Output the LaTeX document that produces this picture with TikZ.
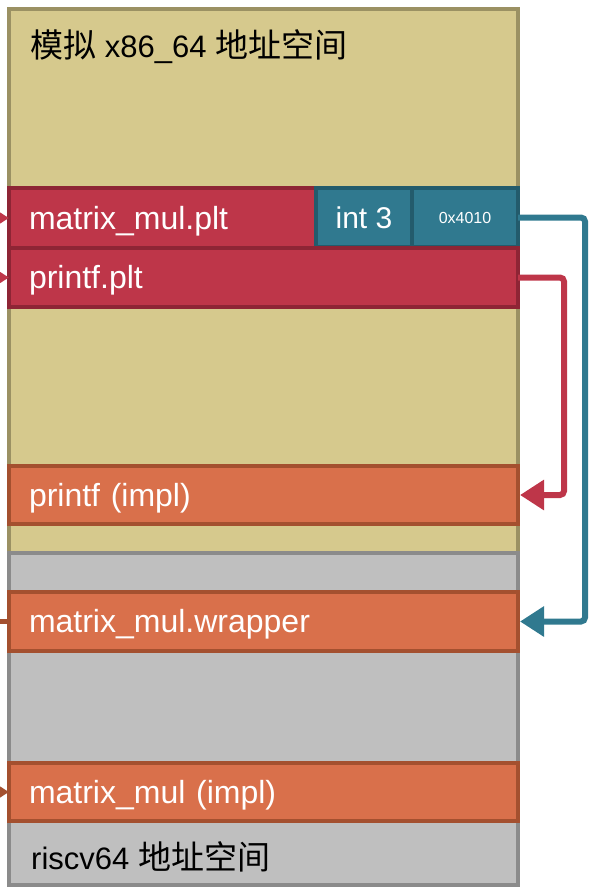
\documentclass[tikz,border=0pt]{standalone}
\usepackage{fontspec}
\setmainfont{Liberation Sans}
\newfontfamily\cjk{Noto Sans CJK SC}
\usetikzlibrary{arrows.meta}

\definecolor{sandfill}{HTML}{D6C98D}
\definecolor{sandedge}{HTML}{9B9163}
\definecolor{greyfill}{HTML}{BFBFBF}
\definecolor{greyedge}{HTML}{8B8B8B}
\definecolor{pltfill}{HTML}{BE3649}
\definecolor{pltedge}{HTML}{8E2535}
\definecolor{tealfill}{HTML}{30798F}
\definecolor{tealedge}{HTML}{235B6C}
\definecolor{implfill}{HTML}{D9704B}
\definecolor{impledge}{HTML}{A4502F}

\newcommand{\hanzi}[1]{{\cjk\fontsize{33}{38}\selectfont #1}}

\begin{document}
\begin{tikzpicture}[x=1pt, y=-1pt,
  box/.style={anchor=north west, outer sep=0pt, inner sep=0pt, line width=4pt},
  label/.style={text=white, align=left, font=\fontsize{32}{38}\selectfont, text height=29pt, text depth=7pt},
  space/.style={box, line width=4.5pt},
  plt/.style={box, label, draw=pltedge, fill=pltfill},
  tealbox/.style={box, draw=tealedge, fill=tealfill, text=white, align=center},
  impl/.style={box, label, draw=impledge, fill=implfill},
  title/.style={anchor=base west, inner sep=0pt, font=\fontsize{31}{37}\selectfont},
  link/.style={line width=6pt, rounded corners=4pt},
  tip/.style={-{Triangle[length=24pt,width=29pt]}}]
\useasboundingbox (0,0) rectangle (589,887);
\clip (0,0) rectangle (589,887);
% Draw address spaces
\node[space, draw=sandedge, fill=sandfill, minimum width=509pt, minimum height=544pt] (x86) at (9,9) {};
\node[space, draw=greyedge, fill=greyfill, minimum width=509pt, minimum height=332pt] (rv) at (9,553) {};
\node[title] (x86name) at (30,57) {\hanzi{模拟} x86\_64 \hanzi{地址空间}};
\node[title] (rvname) at (31,869) {riscv64 \hanzi{地址空间}};
% Draw plt entries
\node[plt, minimum height=60pt, text width=267pt, inner xsep=20pt] (mmplt) at (9,188) {matrix\_mul.plt};
\node[tealbox, minimum width=96pt, minimum height=59pt, font=\fontsize{30}{36}\selectfont, text height=28pt, text depth=6pt] (int3) at (316,188) {int 3};
\node[tealbox, minimum width=106pt, minimum height=59pt, font=\fontsize{16}{19}\selectfont] (addr) at (412,188) {0x4010};
\node[plt, minimum height=59pt, text width=469pt, inner xsep=20pt] (pfplt) at (9,248) {printf.plt};
% Draw function bodies
\node[impl, minimum height=58pt, text width=469pt, inner xsep=20pt] (pfimpl) at (9,466) {printf (impl)};
\node[impl, minimum height=59pt, text width=469pt, inner xsep=20pt] (wrap) at (9,592) {matrix\_mul.wrapper};
\node[impl, minimum height=58pt, text width=469pt, inner xsep=20pt] (mmimpl) at (9,763) {matrix\_mul (impl)};
% Draw incoming connectors
\coordinate (inA) at ([xshift=-40pt]mmplt.west);
\coordinate (inB) at ([xshift=-40pt]pfplt.west);
\coordinate (outC) at ([xshift=-40pt]wrap.west);
\coordinate (inD) at ([xshift=-40pt]mmimpl.west);
\draw[link, tip, pltfill] (inA) -- (mmplt.west);
\draw[link, tip, pltfill] (inB) -- (pfplt.west);
\draw[link, line width=5pt, impledge] (outC) -- (wrap.west);
\draw[link, tip, impledge] (inD) -- (mmimpl.west);
% Draw jumps
\draw[link, tip, pltfill] (pfplt.east) -- ++(46,0) |- ([xshift=2pt]pfimpl.east);
\draw[link, tip, tealfill] (addr.east) -- ++(67,0) |- ([xshift=2pt]wrap.east);
\end{tikzpicture}
\end{document}
